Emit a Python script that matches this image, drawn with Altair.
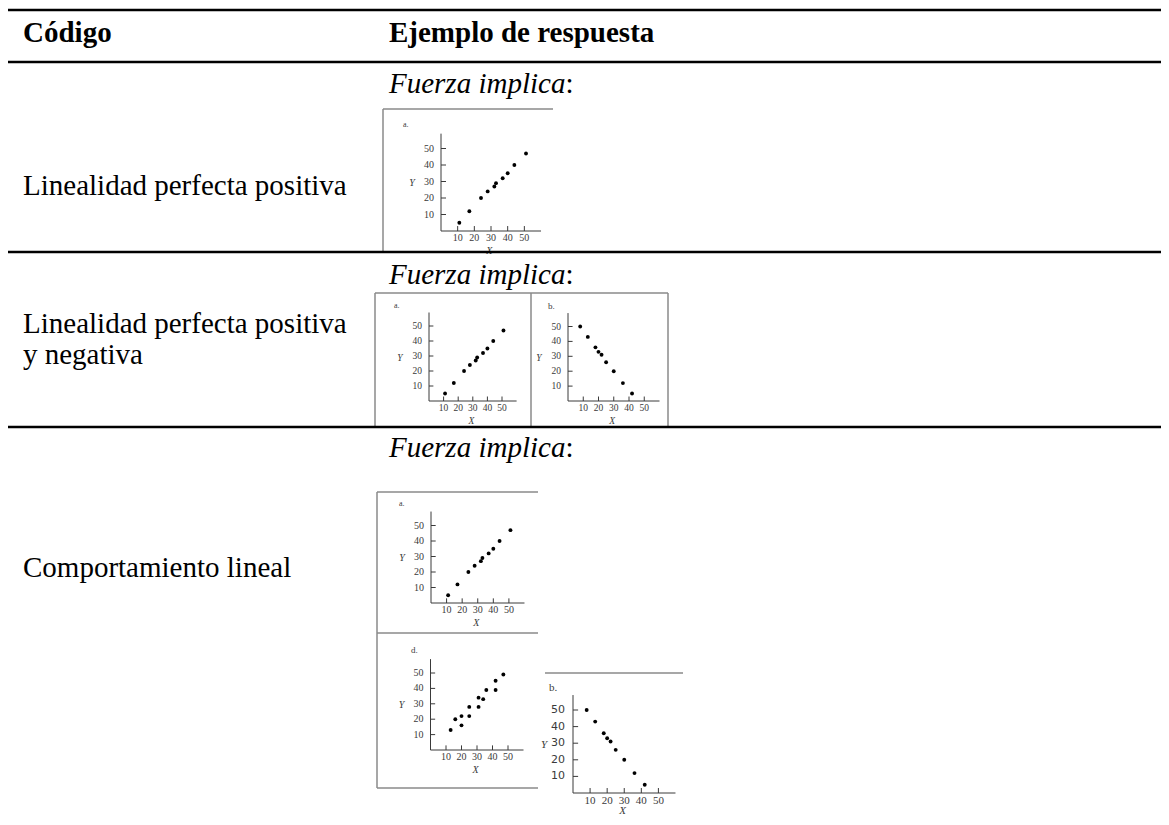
import altair as alt
import pandas as pd

# ---------------- data ----------------
header = ["Código", "Ejemplo de respuesta"]
row1_label = ["Linealidad perfecta positiva"]
row2_label = ["Linealidad perfecta positiva", "y negativa"]
row3_label = ["Comportamiento lineal"]
caption = "Fuerza implica"
tick_values = [10, 20, 30, 40, 50]

pos_x = [11, 17, 24, 28, 32, 33, 37, 40, 44, 51]
pos_y = [5, 12, 20, 24, 27, 29, 32, 35, 40, 47]
neg_x = [8, 13, 18, 20, 22, 25, 30, 36, 42]
neg_y = [50, 43, 36, 33, 31, 26, 20, 12, 5]
lin_x = [13, 16, 20, 20, 25, 25, 31, 31, 34, 36, 42, 42, 47]
lin_y = [13, 20, 22, 16, 28, 22, 34, 28, 33, 39, 45, 39, 49]

# ---------------- layout helpers ----------------
W, H, M = 1153, 809, 8
SERIF = "Liberation Serif"
FS = 29
AX = "#3a3a3a"
FRAME = "#8a8a8a"


def px(v):
    return v - M


def text(s, x, y, size=FS, weight="normal", style="normal", color="black",
         font=SERIF, align="left", baseline="alphabetic"):
    return alt.Chart().mark_text(
        text=s, font=font, fontSize=size, fontWeight=weight, fontStyle=style,
        color=color, align=align, baseline=baseline
    ).encode(x=alt.value(px(x)), y=alt.value(px(y)))


def hline(x1, x2, y, color="black", width=2.5):
    return alt.Chart().mark_rule(color=color, strokeWidth=width).encode(
        x=alt.value(px(x1)), x2=alt.value(px(x2)), y=alt.value(px(y)))


def vline(x, y1, y2, color=FRAME, width=1.5):
    return alt.Chart().mark_rule(color=color, strokeWidth=width).encode(
        x=alt.value(px(x)), y=alt.value(px(y1)), y2=alt.value(px(y2)))


def panel(xs, ys, ox, oy, sx, sy, lab=10, ylab_font=SERIF, xt_dy=20, lab_pad=7):
    x0, y0 = px(ox), px(oy)
    xsc = alt.Scale(domain=[0, 60], range=[x0, x0 + 60 * sx], nice=False, zero=False)
    ysc = alt.Scale(domain=[0, 59], range=[y0, y0 - 59 * sy], nice=False, zero=False)

    def XD(v):
        return alt.XDatum(v, scale=xsc, axis=None)

    def YD(v):
        return alt.YDatum(v, scale=ysc, axis=None)

    tk = pd.DataFrame({"t": tick_values})
    pts = alt.Chart(pd.DataFrame({"x": xs, "y": ys})).mark_circle(
        size=15, color="black", opacity=1
    ).encode(x=alt.X("x:Q", scale=xsc, axis=None), y=alt.Y("y:Q", scale=ysc, axis=None))
    xdom = alt.Chart().mark_rule(color=AX, strokeWidth=1).encode(
        x=XD(0), x2=alt.X2Datum(60), y=YD(0))
    ydom = alt.Chart().mark_rule(color=AX, strokeWidth=1).encode(
        x=XD(0), y=YD(0), y2=alt.Y2Datum(59))
    xt = alt.Chart(tk).mark_rule(color=AX, strokeWidth=1).encode(
        x=alt.X("t:Q", scale=xsc, axis=None), y=YD(0), y2=alt.Y2Datum(3))
    yt = alt.Chart(tk).mark_rule(color=AX, strokeWidth=1).encode(
        y=alt.Y("t:Q", scale=ysc, axis=None), x=XD(0), x2=alt.X2Datum(3))
    xl = alt.Chart(tk).mark_text(
        font=SERIF, fontSize=lab, color=AX, baseline="top", align="center", dy=2
    ).encode(x=alt.X("t:Q", scale=xsc, axis=None), y=YD(0), text="t:Q")
    yl = alt.Chart(tk).mark_text(
        font=ylab_font, fontSize=lab, color=AX, baseline="middle", align="right", dx=-lab_pad
    ).encode(y=alt.Y("t:Q", scale=ysc, axis=None), x=XD(0), text="t:Q")
    xti = alt.Chart().mark_text(
        text="X", font=SERIF, fontSize=lab, fontStyle="italic", color=AX,
        baseline="middle", align="center", dy=xt_dy
    ).encode(x=XD(29), y=YD(0))
    yti = alt.Chart().mark_text(
        text="Y", font=SERIF, fontSize=lab, fontStyle="italic", color=AX,
        baseline="middle", align="center", dx=-29
    ).encode(x=XD(0), y=YD(29))
    return alt.layer(xdom, ydom, xt, yt, xl, yl, xti, yti, pts)


layers = []

# ----- row 1 picture -----
layers.append(panel(pos_x, pos_y, 441, 231, 1.667, 1.65))
layers += [vline(383, 109, 252), hline(383, 553, 109, FRAME, 1.5),
           text("a.", 403, 127, size=8, color=AX)]

# ----- row 2 pictures -----
layers.append(panel(pos_x, pos_y, 429, 401, 1.46, 1.5, lab=9.5))
layers.append(panel(neg_x, neg_y, 568, 401, 1.525, 1.49, lab=9.5))
layers += [hline(375, 668, 293, FRAME, 1.5), vline(375, 293, 427), vline(531, 293, 427),
           vline(668, 293, 427),
           text("a.", 394, 308, size=8, color=AX), text("b.", 548, 309, size=9, color=AX)]

# ----- row 3 pictures -----
layers.append(panel(pos_x, pos_y, 431, 603, 1.558, 1.55))
layers.append(panel(lin_x, lin_y, 430.5, 750, 1.55, 1.54))
layers.append(panel(neg_x, neg_y, 573, 793, 1.708, 1.66, lab=11, ylab_font="DejaVu Sans",
                    xt_dy=18, lab_pad=8))
layers += [vline(377, 492, 788), hline(377, 538, 492, FRAME, 1.5), hline(377, 538, 633, FRAME, 1.5),
           hline(377, 538, 788, FRAME, 1.5), hline(545, 683, 673, FRAME, 1.5),
           text("a.", 399, 506, size=8, color=AX), text("d.", 411, 653, size=9, color=AX),
           text("b.", 549, 691, size=11, color=AX)]

# ----- table rules -----
for yy in [10, 62, 252, 427]:
    layers.append(hline(0, 1175, yy, "black", 2.5))

# ----- table text -----
CX = 389
layers += [
    text(header[0], 23, 42, weight="bold"),
    text(header[1], CX, 42, weight="bold"),
    text(caption, CX, 93, style="italic"),
    text(":", CX + 6.083 * FS, 93),
    text(row1_label[0], 23, 195),
    text(caption, CX, 284, style="italic"),
    text(":", CX + 6.083 * FS, 284),
    text(row2_label[0], 23, 333),
    text(row2_label[1], 23, 364),
    text(caption, CX, 457, style="italic"),
    text(":", CX + 6.083 * FS, 457),
    text(row3_label[0], 23, 577),
]

chart = alt.layer(*layers, data=pd.DataFrame({"k": [0]})).resolve_scale(
    x="independent", y="independent"
).properties(
    width=W, height=H, padding=0,
    autosize=alt.AutoSizeParams(type="none"), background="white"
).configure_view(strokeWidth=0)

chart.save("out.html", embed_options={"renderer": "svg", "actions": False})
